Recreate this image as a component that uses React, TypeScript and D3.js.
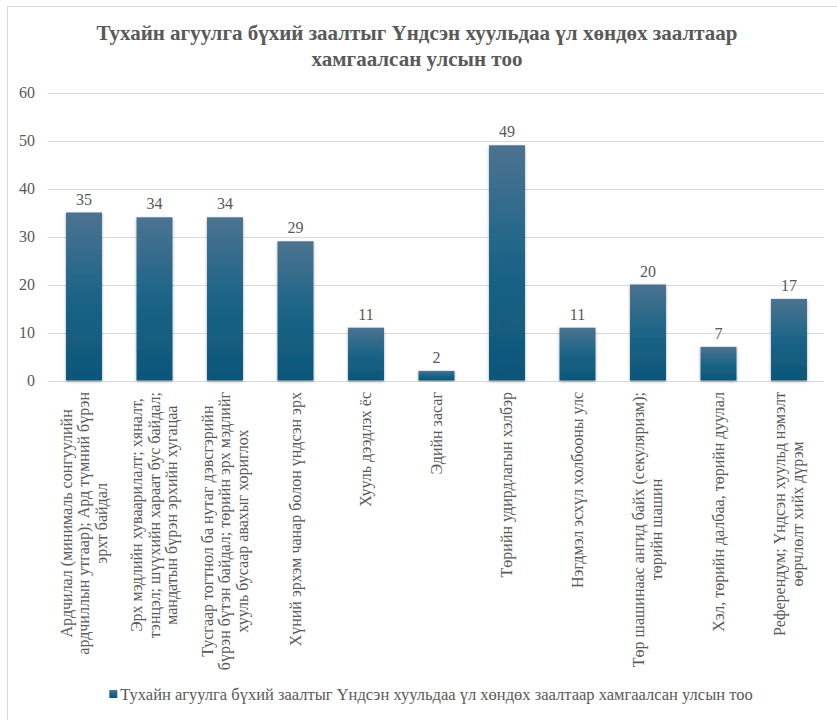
import React, { useEffect, useRef } from "react";
import * as d3 from "d3";

const title = [
  "Тухайн агуулга бүхий заалтыг Үндсэн хуульдаа үл хөндөх заалтаар",
  "хамгаалсан улсын тоо",
];
const seriesName = "Тухайн агуулга бүхий заалтыг Үндсэн хуульдаа үл хөндөх заалтаар хамгаалсан улсын тоо";

const categoryLines: string[][] = [
  ["Ардчилал (минималь сонгуулийн", "ардчиллын утгаар); Ард түмний бүрэн", "эрхт байдал"],
  ["Эрх мэдлийн хуваарилалт; хяналт,", "тэнцэл; шүүхийн хараат бус байдал;", "мандатын бүрэн эрхийн хугацаа"],
  ["Тусгаар тогтнол ба нутаг дэвсгэрийн", "бүрэн бүтэн байдал; төрийн эрх мэдлийг", "хууль бусаар авахыг хориглох"],
  ["Хүний эрхэм чанар болон үндсэн эрх"],
  ["Хууль дээдлэх ёс"],
  ["Эдийн засаг"],
  ["Төрийн удирдлагын хэлбэр"],
  ["Нэгдмэл эсхүл холбооны улс"],
  ["Төр шашинаас ангид байх (секуляризм);", "төрийн шашин"],
  ["Хэл, төрийн далбаа, төрийн дуулал"],
  ["Референдум; Үндсэн хуульд нэмэлт", "өөрчлөлт хийх дүрэм"],
];
const values = [35, 34, 34, 29, 11, 2, 49, 11, 20, 7, 17];
const yTicks = [0, 10, 20, 30, 40, 50, 60];

export default function App() {
  const ref = useRef<SVGSVGElement>(null);

  useEffect(() => {
    const svg = d3.select(ref.current);
    svg.selectAll("*").remove();
    const font = "Liberation Serif";
    const gray = "#595959";

    const defs = svg.append("defs");
    const grad = defs.append("linearGradient").attr("id", "barGrad").attr("x1", 0).attr("y1", 0).attr("x2", 0).attr("y2", 1);
    grad.append("stop").attr("offset", "0%").attr("stop-color", "#4c7391");
    grad.append("stop").attr("offset", "50%").attr("stop-color", "#1b6487");
    grad.append("stop").attr("offset", "100%").attr("stop-color", "#0c5679");
    const filt = defs.append("filter").attr("id", "shadow").attr("x", "-30%").attr("y", "-10%").attr("width", "160%").attr("height", "120%");
    filt.append("feDropShadow").attr("dx", 0).attr("dy", 1).attr("stdDeviation", 1.6).attr("flood-color", "#000").attr("flood-opacity", 0.35);

    svg.append("rect").attr("x", 0).attr("y", 0).attr("width", 837).attr("height", 720).attr("fill", "#fff");
    svg.append("rect").attr("x", 7.5).attr("y", 6.5).attr("width", 900).attr("height", 800)
      .attr("fill", "#fff").attr("stroke", "#d9d9d9").attr("stroke-width", 1);

    const x = d3.scaleBand<number>().domain(values.map((_, i) => i)).range([48.75, 824.25]).paddingInner(0.49).paddingOuter(0.245);
    const y = d3.scaleLinear().domain([0, 60]).range([380.5, 92.5]);

    // title
    const t = svg.append("text").style("font-family", font).attr("font-weight", "bold").attr("font-size", 21).attr("fill", gray).attr("text-anchor", "middle");
    title.forEach((line, i) => {
      t.append("tspan").attr("x", 417).attr("y", 40 + i * 26).text(line);
    });

    // grid
    svg.append("g").selectAll("line").data(yTicks).join("line")
      .attr("x1", 48).attr("x2", 824).attr("y1", (d) => Math.round(y(d)) + 0.5).attr("y2", (d) => Math.round(y(d)) + 0.5)
      .attr("stroke", "#d9d9d9").attr("stroke-width", 1);

    svg.append("g").selectAll("text").data(yTicks).join("text")
      .attr("x", 35).attr("y", (d) => y(d) + 5).attr("text-anchor", "end")
      .style("font-family", font).attr("font-size", 16).attr("fill", gray).text((d) => d);

    // bars
    svg.append("g").selectAll("rect").data(values).join("rect")
      .attr("x", (_, i) => x(i)!).attr("width", x.bandwidth())
      .attr("y", (d) => y(d)).attr("height", (d) => y(0) - y(d))
      .attr("fill", "url(#barGrad)").attr("filter", "url(#shadow)");

    svg.append("g").selectAll("text").data(values).join("text")
      .attr("x", (_, i) => x(i)! + x.bandwidth() / 2).attr("y", (d) => y(d) - 8)
      .attr("text-anchor", "middle").style("font-family", font).attr("font-size", 16).attr("fill", gray).text((d) => d);

    // category labels (rotated)
    const lh = 17.5;
    const top = 392;
    categoryLines.forEach((lines, i) => {
      const cx = x(i)! + x.bandwidth() / 2;
      const g = svg.append("g");
      const texts = lines.map((line) =>
        g.append("text").style("font-family", font).attr("font-size", 16).attr("fill", gray).attr("text-anchor", "middle").text(line)
      );
      const widths = texts.map((tt) => (tt.node() as SVGTextElement).getComputedTextLength());
      const maxW = Math.max(...widths);
      const n = lines.length;
      texts.forEach((tt, j) => {
        const baseX = cx + (j - (n - 1) / 2) * lh + 5;
        const cy = top + maxW / 2;
        tt.attr("transform", `translate(${baseX},${cy}) rotate(-90)`);
      });
    });

    // legend
    const lg = svg.append("g");
    const legText = lg.append("text").style("font-family", font).attr("font-size", 16.5).attr("fill", gray).text(seriesName);
    const lw = (legText.node() as SVGTextElement).getComputedTextLength();
    const total = 8 + 3 + lw;
    const lx = 431 - total / 2;
    lg.append("rect").attr("x", lx).attr("y", 690).attr("width", 8).attr("height", 8).attr("fill", "url(#barGrad)");
    legText.attr("x", lx + 11).attr("y", 700);
  }, []);

  return (
    <svg ref={ref} width={837} height={720} style={{ position: "absolute", left: 0, top: 0, display: "block" }} />
  );
}
